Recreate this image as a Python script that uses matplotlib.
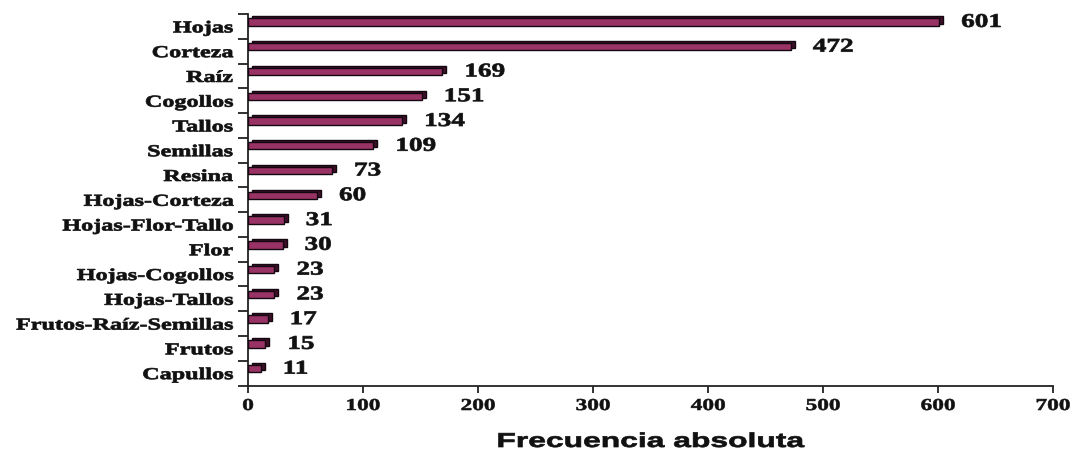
import matplotlib
matplotlib.use("Agg")
import matplotlib.pyplot as plt
import numpy as np
from matplotlib import patheffects
from matplotlib.transforms import Affine2D, ScaledTranslation
from matplotlib.ticker import FixedLocator

# Plant part used and how often it is reported
categories = ["Hojas", "Corteza", "Raíz", "Cogollos", "Tallos", "Semillas",
              "Resina", "Hojas-Corteza", "Hojas-Flor-Tallo", "Flor",
              "Hojas-Cogollos", "Hojas-Tallos", "Frutos-Raíz-Semillas",
              "Frutos", "Capullos"]
values = [601, 472, 169, 151, 134, 109, 73, 60, 31, 30, 23, 23, 17, 15, 11]
xticks = [0, 100, 200, 300, 400, 500, 600, 700]
xlabel = "Frecuencia absoluta"

FRONT = "#993366"
SIDE = "#3e0f28"
EDGE = "#140810"
INK = "#111111"


class Stretch(patheffects.AbstractPathEffect):
    """Widen glyphs horizontally around a chosen anchor, with a thin outline."""

    def __init__(self, sx, anchor="left", stroke=0.0):
        super().__init__()
        self._sx = sx
        self._anchor = anchor
        self._stroke = stroke

    def draw_path(self, renderer, gc, tpath, affine, rgbFace=None):
        ext = tpath.get_extents()
        if self._anchor == "right":
            ref = ext.x1
        elif self._anchor == "center":
            ref = 0.5 * (ext.x0 + ext.x1)
        else:
            ref = 0.0
        pre = Affine2D().translate(-ref, 0).scale(self._sx, 1).translate(ref, 0)
        gc0 = renderer.new_gc()
        gc0.copy_properties(gc)
        if self._stroke > 0 and rgbFace is not None:
            gc0.set_linewidth(self._stroke)
            gc0.set_foreground(rgbFace)
        renderer.draw_path(gc0, tpath, pre + affine, rgbFace)
        gc0.restore()


fig = plt.figure(figsize=(10.73, 4.5), dpi=100)
ax = fig.add_axes([248 / 1073, 1 - 385.5 / 450, (1053 - 248) / 1073, (385.5 - 14) / 450])

n = len(categories)
ypos = np.arange(n)[::-1].astype(float)
bar_y = ypos + 0.18
bar_h = 0.30

# extruded depth drawn behind the front face
depth = ax.transData + ScaledTranslation(0.04, 0.02, fig.dpi_scale_trans)
ax.barh(bar_y, values, height=bar_h, color=SIDE, edgecolor=EDGE,
        linewidth=1.0, transform=depth, zorder=2)
ax.barh(bar_y, values, height=bar_h, color=FRONT, edgecolor=EDGE,
        linewidth=1.0, zorder=3)

val_font = dict(family="Liberation Serif", weight="bold", size=14, color=INK)
for v, y in zip(values, bar_y):
    ax.annotate(str(v), xy=(v, y), xytext=(22, -5), textcoords="offset pixels",
                ha="left", va="baseline", annotation_clip=False,
                path_effects=[Stretch(1.4, "left", 0.5)], **val_font)

ax.set_xlim(0, 700)
ax.set_ylim(-0.5, n - 0.5)

for side in ("top", "right"):
    ax.spines[side].set_visible(False)
for side in ("left", "bottom"):
    ax.spines[side].set_color("#222222")
    ax.spines[side].set_linewidth(1.3)

ax.xaxis.set_major_locator(FixedLocator(xticks))
ax.set_xticklabels([str(t) for t in xticks])
ax.tick_params(axis="x", direction="out", length=5, width=1.3, color="#222222", pad=4)
for lbl in ax.get_xticklabels():
    lbl.set_fontfamily("Liberation Serif")
    lbl.set_fontweight("bold")
    lbl.set_fontsize(12)
    lbl.set_color(INK)
    lbl.set_path_effects([Stretch(1.4, "center", 0.4)])

ax.yaxis.set_major_locator(FixedLocator(ypos))
ax.set_yticklabels(categories)
ax.yaxis.set_minor_locator(FixedLocator(np.arange(-0.5, n, 1.0)))
ax.tick_params(axis="y", which="major", length=0, pad=11)
ax.tick_params(axis="y", which="minor", direction="out", length=7, width=1.3, color="#222222")
for lbl in ax.get_yticklabels():
    lbl.set_fontfamily("Liberation Serif")
    lbl.set_fontweight("bold")
    lbl.set_fontsize(12)
    lbl.set_color(INK)
    lbl.set_path_effects([Stretch(1.45, "right", 0.5)])

ax.set_xlabel(xlabel, family="Liberation Sans", weight="bold", size=14.5,
              color=INK, va="baseline")
ax.xaxis.set_label_coords(0.5, -61.5 / 371.5)
ax.xaxis.label.set_path_effects([Stretch(1.58, "center", 0.5)])

fig.savefig("out.png", dpi=100)
